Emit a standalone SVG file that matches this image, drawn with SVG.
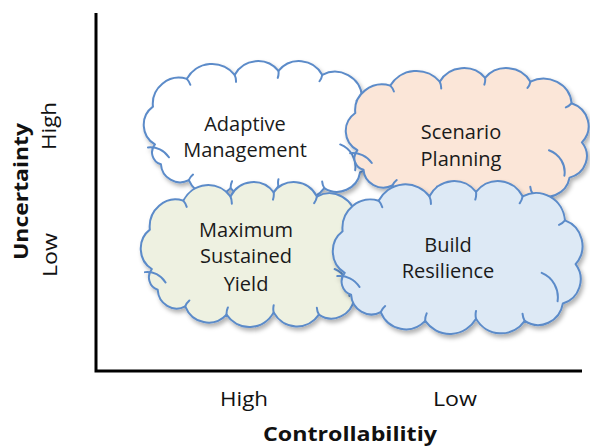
<svg xmlns="http://www.w3.org/2000/svg" xmlns:xlink="http://www.w3.org/1999/xlink" width="590" height="446" viewBox="0 0 590 446">
<style>
.ol{stroke:#5b8bc9;stroke-width:2;stroke-linejoin:round;stroke-linecap:round}
.cr{fill:none;stroke:#5b8bc9;stroke-width:2;stroke-linecap:round}
.ct{font-family:"Open Sans","Liberation Sans",sans-serif;font-size:20px;fill:#1a1a1a;text-anchor:middle}
.ax{font-family:"Open Sans","Liberation Sans",sans-serif;font-size:20px;fill:#111;text-anchor:middle}
.axb{font-family:"Open Sans","Liberation Sans",sans-serif;font-size:20px;font-weight:bold;fill:#111;text-anchor:middle}
.axis{stroke:#000;stroke-width:3;fill:none}
</style>
<defs>
<filter id="sh" x="-10%" y="-10%" width="125%" height="130%">
<feDropShadow dx="2" dy="3" stdDeviation="2" flood-color="#000" flood-opacity="0.3"/>
</filter>
<g id="cloud">
<path class="ol" vector-effect="non-scaling-stroke" d="M12 84 A22.8 22.8 0 0 1 10 46 A26.4 26.4 0 0 1 44 18 A28.9 28.9 0 0 1 92 14 A26.5 26.5 0 0 1 136 10 A26.5 26.5 0 0 1 180 14 A27.4 27.4 0 0 1 220 36 A24.7 24.7 0 0 1 230 76 A22.8 22.8 0 0 1 218 112 A23.6 23.6 0 0 1 182 128 A27.6 27.6 0 0 1 136 126 A28.8 28.8 0 0 1 88 128 A25.7 25.7 0 0 1 46 120 A19.3 19.3 0 0 1 18 104 A12.5 12.5 0 0 1 12 84 Z"/>
<path class="cr" vector-effect="non-scaling-stroke" d="M198 84 A24 24 0 0 1 213 110 M5 87 A22 22 0 0 1 26 97 M44 18 A15 15 0 0 1 47.5 24 M92 14 A15 15 0 0 1 93.4 21 M136 10 A15 15 0 0 1 135.3 17 M180 14 A15 15 0 0 1 177.2 20.4 M220 36 A15 15 0 0 1 214.4 40.2 M182 128 A15 15 0 0 1 179.9 121.4 M136 126 A15 15 0 0 1 136 119 M88 128 A15 15 0 0 1 89.4 121.1 M46 120 A15 15 0 0 1 50.2 114.4"/>
</g>
</defs>

<g id="axes">
<path class="axis" d="M96 13 V371 H582"/>
</g>

<g id="adaptive-management">
<use xlink:href="#cloud" href="#cloud" fill="#ffffff" filter="url(#sh)" transform="translate(143,61) scale(0.996,0.993)"/>
<text class="ct" x="245" y="131">Adaptive</text>
<text class="ct" x="245" y="157">Management</text>
</g>

<g id="scenario-planning">
<use xlink:href="#cloud" href="#cloud" fill="#fbe6d8" filter="url(#sh)" transform="translate(345,68) scale(1.03,0.979)"/>
<text class="ct" x="461" y="139">Scenario</text>
<text class="ct" x="461" y="166">Planning</text>
</g>

<g id="maximum-sustained-yield">
<use xlink:href="#cloud" href="#cloud" fill="#eef1e1" filter="url(#sh)" transform="translate(140,182) scale(0.983,1.036)"/>
<text class="ct" x="246" y="237">Maximum</text>
<text class="ct" x="246" y="263">Sustained</text>
<text class="ct" x="246" y="291">Yield</text>
</g>

<g id="build-resilience">
<use xlink:href="#cloud" href="#cloud" fill="#dde9f5" filter="url(#sh)" transform="translate(332,181) scale(1.059,1.093)"/>
<text class="ct" x="448" y="252">Build</text>
<text class="ct" x="448" y="278">Resilience</text>
</g>

<g id="labels">
<text class="ax" x="244" y="406" textLength="48" lengthAdjust="spacingAndGlyphs">High</text>
<text class="ax" x="455" y="406" textLength="44" lengthAdjust="spacingAndGlyphs">Low</text>
<text class="axb" x="350" y="441" textLength="174" lengthAdjust="spacingAndGlyphs">Controllabilitiy</text>
<text class="axb" transform="translate(28,191.5) rotate(-90)" textLength="137" lengthAdjust="spacingAndGlyphs">Uncertainty</text>
<text class="ax" transform="translate(56,126) rotate(-90)" textLength="48" lengthAdjust="spacingAndGlyphs">High</text>
<text class="ax" transform="translate(57,255) rotate(-90)" textLength="44" lengthAdjust="spacingAndGlyphs">Low</text>
</g>
</svg>
